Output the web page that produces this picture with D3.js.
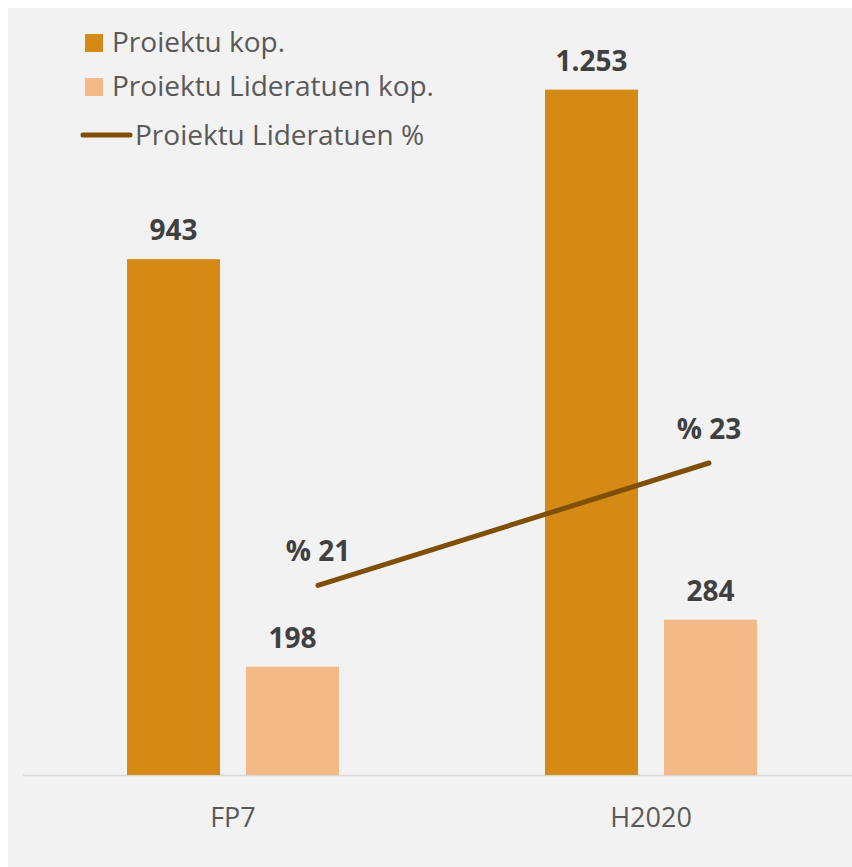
<!DOCTYPE html>
<html>
<head>
<meta charset="utf-8">
<script src="https://cdn.jsdelivr.net/npm/d3@7"></script>
<style>
  html, body { margin: 0; padding: 0; background: #ffffff; }
  svg { display: block; }
  text { font-family: "Open Sans", "Noto Sans", sans-serif; }
</style>
</head>
<body>
<svg id="chart" width="852" height="867"></svg>
<script>
// ---- data ----
const categories = ["FP7", "H2020"];
const seriesNames = ["Proiektu kop.", "Proiektu Lideratuen kop."];
const projectCounts = [943, 1253];
const leaderCounts = [198, 284];
const leaderShare = [0.21, 0.2267];
const countLabels = ["943", "1.253"];
const leaderLabels = ["198", "284"];
const shareLabels = ["% 21", "% 23"];
const lineName = "Proiektu Lideratuen %";

// ---- layout ----
const W = 852, H = 867;
const colors = { dark: "#D68A16", light: "#F3BA87", line: "#7F4F06", text: "#595959", label: "#404040" };
const plot = { left: 24, right: 860, top: 9.2, bottom: 775 };

const svg = d3.select("#chart");
svg.append("rect").attr("x", 8).attr("y", 8).attr("width", W - 8).attr("height", H - 8).attr("fill", "#F2F2F2");

const x0 = d3.scaleBand().domain(categories).range([plot.left, plot.right]);
const x1 = d3.scaleBand().domain(seriesNames).range([103, 315]).paddingInner(0.2185);
const y = d3.scaleLinear().domain([0, 1400]).range([plot.bottom, plot.top]);
const y2 = d3.scaleLinear().domain([0.20, 0.23]).range([658.8, 438.8]);
const xLine = d3.scalePoint().domain(categories).range([x0("FP7") + 294, x0("H2020") + 267]);

const rows = categories.map((c, i) => ({
  cat: c,
  vals: [
    { s: seriesNames[0], v: projectCounts[i], label: countLabels[i], color: colors.dark },
    { s: seriesNames[1], v: leaderCounts[i], label: leaderLabels[i], color: colors.light }
  ],
  share: leaderShare[i],
  shareLabel: shareLabels[i]
}));

// axis line
svg.append("line").attr("x1", 23).attr("x2", W).attr("y1", plot.bottom + 0.5).attr("y2", plot.bottom + 0.5)
  .attr("stroke", "#D9D9D9").attr("stroke-width", 1.5);

// bars
const g = svg.selectAll("g.cat").data(rows).join("g").attr("class", "cat")
  .attr("transform", d => `translate(${x0(d.cat)},0)`);
g.selectAll("rect").data(d => d.vals).join("rect")
  .attr("x", d => x1(d.s)).attr("width", x1.bandwidth())
  .attr("y", d => y(d.v)).attr("height", d => y(0) - y(d.v))
  .attr("fill", d => d.color);
g.selectAll("text.val").data(d => d.vals).join("text").attr("class", "val")
  .attr("x", d => x1(d.s) + x1.bandwidth() / 2).attr("y", d => y(d.v) - 19)
  .attr("text-anchor", "middle").attr("font-size", 28).attr("font-weight", 700)
  .attr("fill", colors.label).text(d => d.label);

// x axis labels
const xAxis = d3.axisBottom(x0).tickSize(0).tickPadding(0);
const ax = svg.append("g").attr("transform", `translate(0,${plot.bottom})`).call(xAxis);
ax.select(".domain").remove();
ax.selectAll("text").attr("font-size", 27).attr("fill", colors.text)
  .attr("font-family", "'Open Sans', sans-serif").attr("dy", null).attr("y", 52);

// line
const lineGen = d3.line().x(d => xLine(d.cat)).y(d => y2(d.share));
svg.append("path").datum(rows).attr("d", lineGen).attr("fill", "none")
  .attr("stroke", colors.line).attr("stroke-width", 5).attr("stroke-linecap", "round");
svg.selectAll("text.share").data(rows).join("text").attr("class", "share")
  .attr("x", d => xLine(d.cat)).attr("y", d => y2(d.share) - 24)
  .attr("text-anchor", "middle").attr("font-size", 28).attr("font-weight", 700)
  .attr("fill", colors.label).text(d => d.shareLabel);

// legend
const legend = svg.append("g");
const legItems = [
  { name: seriesNames[0], color: colors.dark, type: "rect" },
  { name: seriesNames[1], color: colors.light, type: "rect" },
  { name: lineName, color: colors.line, type: "line" }
];
const legY = [52, 96, 145];
legItems.forEach((d, i) => {
  if (d.type === "rect") {
    legend.append("rect").attr("x", 85).attr("y", legY[i] - 18).attr("width", 18).attr("height", 18).attr("fill", d.color);
    legend.append("text").attr("x", 112).attr("y", legY[i]).attr("font-size", 28).attr("fill", colors.text).text(d.name);
  } else {
    legend.append("line").attr("x1", 83).attr("x2", 130).attr("y1", legY[i] - 10).attr("y2", legY[i] - 10)
      .attr("stroke", d.color).attr("stroke-width", 5).attr("stroke-linecap", "round");
    legend.append("text").attr("x", 135).attr("y", legY[i]).attr("font-size", 28).attr("fill", colors.text).text(d.name);
  }
});
</script>
</body>
</html>
